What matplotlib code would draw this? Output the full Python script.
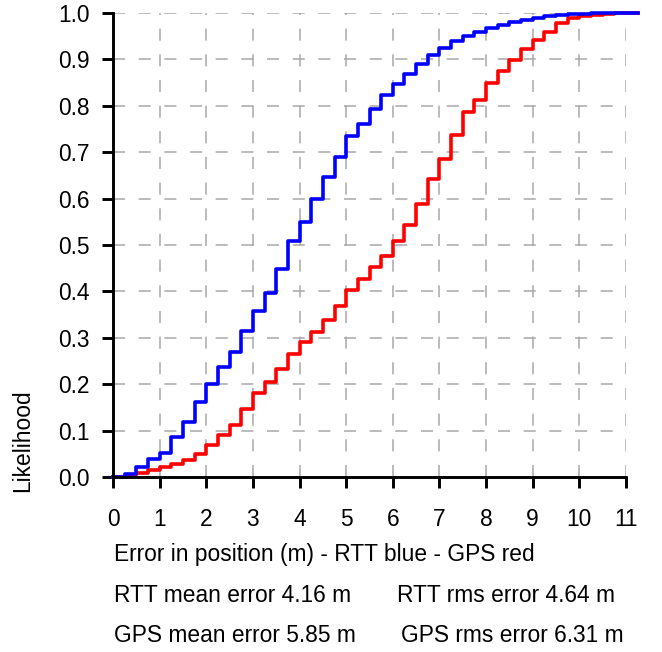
import numpy as np
import matplotlib
matplotlib.use("Agg")
import matplotlib.pyplot as plt

plt.rcParams['font.family'] = ['Liberation Sans', 'DejaVu Sans']

bin_width = 0.25
rtt_cdf = [0.000, 0.006, 0.022, 0.038, 0.052, 0.087, 0.119, 0.162, 0.200, 0.237,
           0.269, 0.314, 0.358, 0.397, 0.449, 0.508, 0.549, 0.600, 0.646, 0.690,
           0.734, 0.761, 0.793, 0.823, 0.847, 0.869, 0.890, 0.910, 0.925, 0.940,
           0.951, 0.960, 0.967, 0.974, 0.980, 0.985, 0.990, 0.993, 0.996, 0.997,
           0.998, 0.999, 1.000, 1.000, 1.000]
gps_cdf = [0.000, 0.004, 0.009, 0.015, 0.022, 0.029, 0.037, 0.049, 0.069, 0.090,
           0.113, 0.146, 0.181, 0.205, 0.232, 0.265, 0.290, 0.313, 0.338, 0.368,
           0.402, 0.427, 0.452, 0.476, 0.509, 0.544, 0.589, 0.642, 0.685, 0.738,
           0.786, 0.812, 0.850, 0.874, 0.899, 0.922, 0.941, 0.958, 0.979, 0.990,
           0.993, 0.995, 0.997, 0.999, 1.000]
x_ticks = list(range(0, 12))
y_ticks = [round(0.1 * i, 1) for i in range(11)]
xlabel = "Error in position (m) - RTT blue - GPS red"
ylabel = "Likelihood"
stats = [["RTT mean error 4.16 m", "RTT rms error 4.64 m"],
         ["GPS mean error 5.85 m", "GPS rms error 6.31 m"]]

W, H = 662, 652
FS = 16.4
fig = plt.figure(figsize=(W / 100, H / 100), dpi=100)
ax = fig.add_axes([113 / W, 1 - 477 / H, 513 / W, 464 / H])

edges_r = np.arange(len(rtt_cdf) + 1) * bin_width
edges_g = np.arange(len(gps_cdf) + 1) * bin_width
ax.step(edges_g, gps_cdf + [gps_cdf[-1]], where='post', color='#ff0000', lw=2.6,
        clip_on=False, zorder=3)
ax.step(edges_r, rtt_cdf + [rtt_cdf[-1]], where='post', color='#0000ff', lw=2.6,
        clip_on=False, zorder=4)

ax.set_xlim(0, 11)
ax.set_ylim(0, 1.0)
ax.set_xticks(x_ticks)
ax.set_yticks(y_ticks)
ax.set_yticklabels([f"{v:.1f}" for v in y_ticks])

ax.grid(True, color='#a8a8a8', lw=1.1, linestyle=(0, (7.9, 8.9)))
ax.set_axisbelow(True)

for s in ['top', 'right']:
    ax.spines[s].set_visible(False)
for s in ['left', 'bottom']:
    ax.spines[s].set_linewidth(2.1)
    ax.spines[s].set_color('black')
    ax.spines[s].set_zorder(5)

ax.tick_params(axis='both', direction='out', length=8, width=2.1, labelsize=FS,
               colors='black')
ax.tick_params(axis='y', pad=9)
ax.tick_params(axis='x', pad=14)

fig.text(23 / W, 1 - 441 / H, ylabel, rotation=90, ha='center', va='center', fontsize=FS)
fig.text(114 / W, 1 - 554 / H, xlabel, ha='left', va='center', fontsize=FS)
fig.text(114 / W, 1 - 596 / H, stats[0][0], ha='left', va='center', fontsize=FS)
fig.text(397 / W, 1 - 596 / H, stats[0][1], ha='left', va='center', fontsize=FS)
fig.text(114 / W, 1 - 636 / H, stats[1][0], ha='left', va='center', fontsize=FS)
fig.text(401 / W, 1 - 636 / H, stats[1][1], ha='left', va='center', fontsize=FS)

fig.savefig("out.png", dpi=100)
